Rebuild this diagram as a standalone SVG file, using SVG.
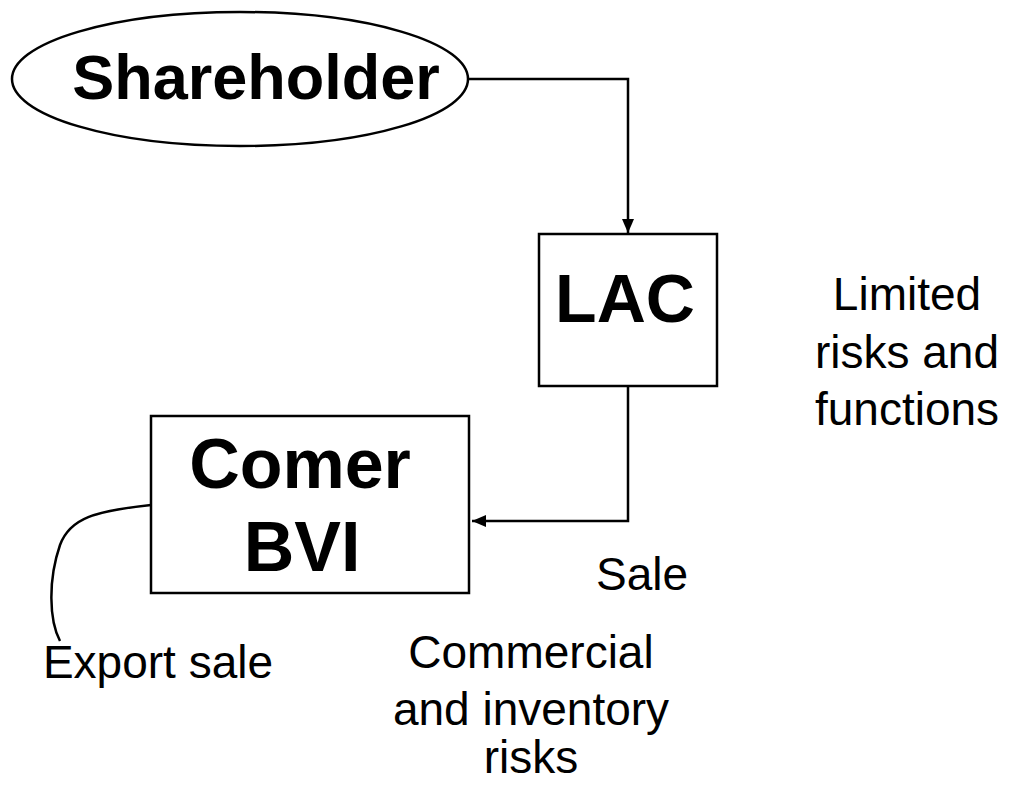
<svg xmlns="http://www.w3.org/2000/svg" width="1021" height="787" viewBox="0 0 1021 787">
  <style>
    .shape { fill: #ffffff; stroke: #000000; stroke-width: 2.5; }
    .wire { fill: none; stroke: #000000; stroke-width: 2.5; }
    .bold { font-family: "Liberation Sans", Arial, sans-serif; font-weight: bold; fill: #000000; text-anchor: middle; }
    .plain { font-family: "Liberation Sans", Arial, sans-serif; font-size: 46px; fill: #000000; text-anchor: middle; }
  </style>
  <defs>
    <marker id="head" viewBox="0 0 14 12" refX="14" refY="6" markerWidth="14" markerHeight="12" markerUnits="userSpaceOnUse" orient="auto">
      <path d="M0,0 L14,6 L0,12 Z" fill="#000000"/>
    </marker>
  </defs>
  <rect width="1021" height="787" fill="#ffffff"/>

  <g id="connectors">
    <path class="wire" d="M468,79 H628 V233" marker-end="url(#head)"/>
    <path class="wire" d="M628,343 V521 H472" marker-end="url(#head)"/>
    <path class="wire" d="M151,505 C95,511 70,518 60,545 C48,580 49,620 60,641"/>
  </g>

  <g id="shareholder">
    <ellipse class="shape" cx="240" cy="79" rx="228" ry="67"/>
    <text class="bold" x="256" y="99" font-size="63">Shareholder</text>
  </g>

  <g id="lac">
    <rect class="shape" x="539" y="234" width="178" height="152"/>
    <text class="bold" x="625" y="322" font-size="68">LAC</text>
  </g>

  <g id="comer-bvi">
    <rect class="shape" x="151" y="416" width="318" height="177"/>
    <text class="bold" x="300" y="488" font-size="70">Comer</text>
    <text class="bold" x="302" y="571" font-size="70">BVI</text>
  </g>

  <g id="labels">
    <text class="plain" x="907" y="310">Limited</text>
    <text class="plain" x="907" y="368">risks and</text>
    <text class="plain" x="907" y="425">functions</text>
    <text class="plain" x="642" y="590">Sale</text>
    <text class="plain" x="531" y="668">Commercial</text>
    <text class="plain" x="531" y="725">and inventory</text>
    <text class="plain" x="531" y="773">risks</text>
    <text class="plain" x="158" y="678">Export sale</text>
  </g>
</svg>
